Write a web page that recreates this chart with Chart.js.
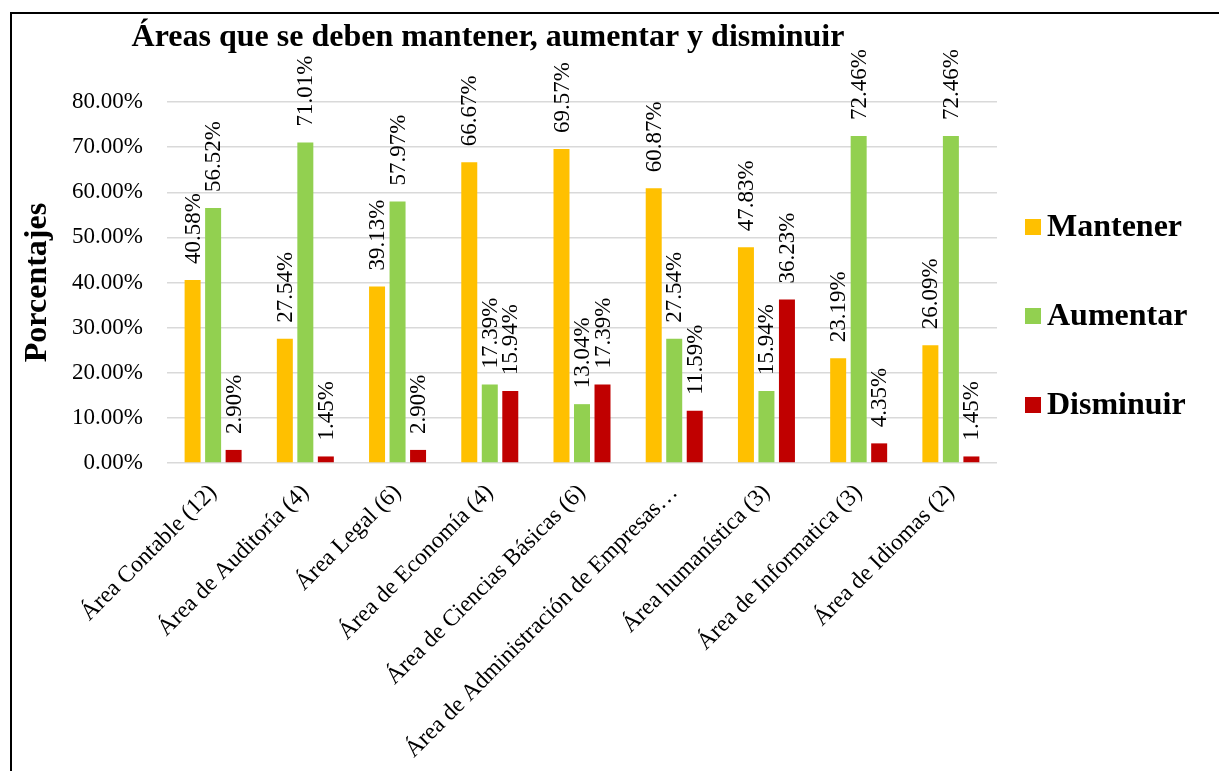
<!DOCTYPE html>
<html>
<head>
<meta charset="utf-8">
<script src="https://cdn.jsdelivr.net/npm/chart.js@4/dist/chart.umd.min.js"></script>
<style>
  html, body { margin: 0; padding: 0; background: #ffffff; }
  #wrap { position: relative; width: 1219px; height: 771px; }
</style>
</head>
<body>
<div id="wrap"><canvas id="c" width="1219" height="771"></canvas></div>
<script>
const chartTitle = "Áreas que se deben mantener, aumentar y disminuir";
const yAxisTitle = "Porcentajes";
const categories = [
  "Área Contable (12)",
  "Área de Auditoría (4)",
  "Área Legal (6)",
  "Área de Economía (4)",
  "Área de Ciencias Básicas (6)",
  "Área de Administración de Empresas…",
  "Área humanística (3)",
  "Área de Informatica (3)",
  "Área de Idiomas (2)"
];
const seriesNames = ["Mantener", "Aumentar", "Disminuir"];
const mantener  = [40.58, 27.54, 39.13, 66.67, 69.57, 60.87, 47.83, 23.19, 26.09];
const aumentar  = [56.52, 71.01, 57.97, 17.39, 13.04, 27.54, 15.94, 72.46, 72.46];
const disminuir = [2.90, 1.45, 2.90, 15.94, 17.39, 11.59, 36.23, 4.35, 1.45];
const yTicks = [0, 10, 20, 30, 40, 50, 60, 70, 80];
const seriesColors = ["#FFC000", "#92D050", "#C00000"];

const SERIF = "'Liberation Serif', 'Times New Roman', serif";

const decorPlugin = {
  id: 'decor',
  afterDraw(chart) {
    const ctx = chart.ctx;
    ctx.save();
    // outer frame
    ctx.strokeStyle = '#000000';
    ctx.lineWidth = 2;
    ctx.strokeRect(11, 13, 1400, 1000);
    // title
    ctx.fillStyle = '#000000';
    ctx.font = "bold 32px " + SERIF;
    ctx.textAlign = 'center';
    ctx.textBaseline = 'alphabetic';
    ctx.fillText(chartTitle, 488, 46);
    // data labels
    ctx.font = "23px " + SERIF;
    ctx.textAlign = 'left';
    ctx.textBaseline = 'middle';
    chart.data.datasets.forEach((ds, di) => {
      const meta = chart.getDatasetMeta(di);
      meta.data.forEach((bar, i) => {
        const v = ds.data[i];
        ctx.save();
        ctx.translate(bar.x + 1, bar.y - 16);
        ctx.rotate(-Math.PI / 2);
        ctx.fillText(v.toFixed(2) + '%', 0, 0);
        ctx.restore();
      });
    });
    // legend
    const legendY = [227, 316, 405];
    ctx.font = "bold 32px " + SERIF;
    ctx.textBaseline = 'middle';
    chart.data.datasets.forEach((ds, di) => {
      const y = legendY[di];
      ctx.fillStyle = ds.backgroundColor;
      ctx.fillRect(1025, y - 8, 16, 16);
      ctx.fillStyle = '#000000';
      ctx.fillText(ds.label, 1047, y + 1);
    });
    ctx.restore();
  }
};

new Chart(document.getElementById('c'), {
  type: 'bar',
  data: {
    labels: categories,
    datasets: [
      { label: seriesNames[0], data: mantener,  backgroundColor: seriesColors[0] },
      { label: seriesNames[1], data: aumentar,  backgroundColor: seriesColors[1] },
      { label: seriesNames[2], data: disminuir, backgroundColor: seriesColors[2] }
    ]
  },
  options: {
    responsive: false,
    animation: false,
    maintainAspectRatio: false,
    layout: { padding: { left: 0, top: 102, right: 222, bottom: 0 } },
    datasets: { bar: { categoryPercentage: 0.667, barPercentage: 0.78 } },
    plugins: {
      legend: { display: false },
      title: { display: false },
      tooltip: { enabled: false }
    },
    scales: {
      x: {
        grid: { display: false },
        border: { display: false },
        ticks: {
          autoSkip: false,
          maxRotation: 45,
          minRotation: 45,
          color: '#000000',
          padding: 8,
          font: { family: SERIF, size: 23.5 }
        },
        afterFit(scale) { scale.height = 308; }
      },
      y: {
        min: 0,
        max: 80,
        afterBuildTicks(scale) { scale.ticks = yTicks.map(v => ({ value: v })); },
        grid: { color: '#d9d9d9', lineWidth: 1.5, drawTicks: false },
        border: { display: false },
        ticks: {
          color: '#000000',
          padding: 24,
          font: { family: SERIF, size: 23 },
          callback: (v) => v.toFixed(2) + '%'
        },
        title: {
          display: true,
          text: yAxisTitle,
          color: '#000000',
          font: { family: SERIF, size: 32, weight: 'bold' },
          padding: { top: 19, bottom: 0 }
        },
        afterFit(scale) { scale.width = 167; }
      }
    }
  },
  plugins: [decorPlugin]
});
</script>
</body>
</html>
